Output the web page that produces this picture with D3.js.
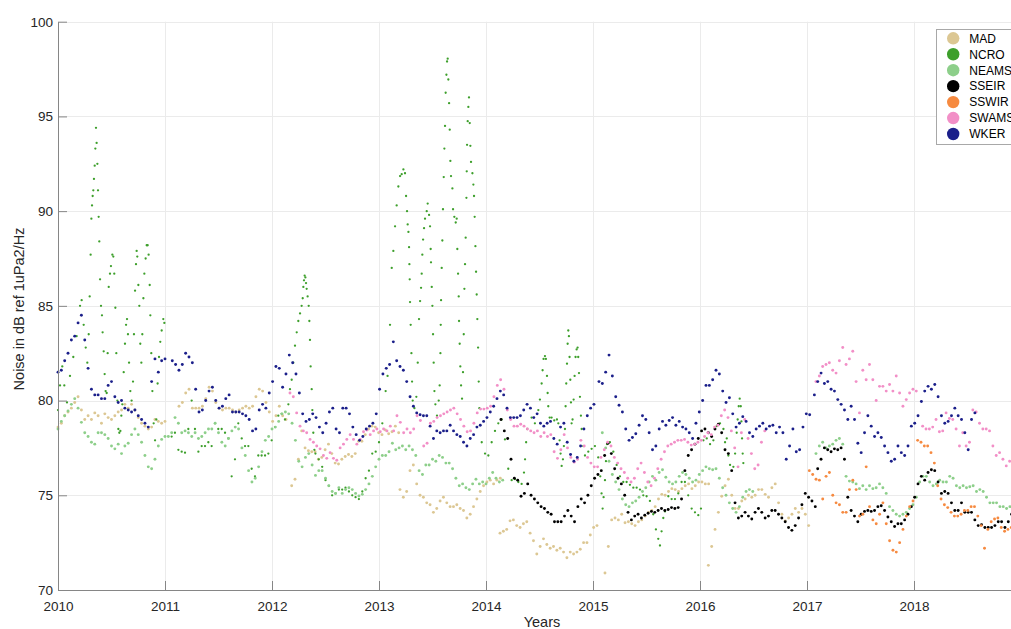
<!DOCTYPE html>
<html>
<head>
<meta charset="utf-8">
<script src="https://cdn.jsdelivr.net/npm/d3@7"></script>
<style>
  html, body { margin: 0; padding: 0; background: #fff; }
  svg { display: block; font-family: "Liberation Sans", Arial, Helvetica, sans-serif; }
</style>
</head>
<body>
<svg id="chart" width="1011" height="629"></svg>
<script>
// ---- station names, colours and axis ticks ----
const stations = ["MAD", "NCRO", "NEAMS", "SSEIR", "SSWIR", "SWAMS", "WKER"];
const stationColors = ["#dcc793", "#3d9f2b", "#8dcf8a", "#000000", "#f68a40", "#f28fc7", "#1b1f8a"];
const yearTicks = [2010, 2011, 2012, 2013, 2014, 2015, 2016, 2017, 2018];
const dbTicks = [70, 75, 80, 85, 90, 95, 100];

// Smoothed noise level, one value every STEP years from each segment's start year.
const STEP = 1 / 32;

const madSegments = [
  [2010.000, [78.6,78.8,79.2,79.4,79.6,79.9,80.2,79.5,79.0,79.2,79.0,79.35,79.2,78.8,79.3,79.1,79.0,79.2,79.4,79.5,79.8,79.6,79.8,79.5,79.1,78.8,78.65,78.5,78.6,79.0,78.9,78.8,78.9]],
  [2011.131, [79.7,79.9,80.4,80.6,79.6,79.6,79.6,79.7,80.1,80.7,80.5,79.9,79.6,79.5,79.6,79.6,79.5,79.4,79.5,79.6,79.7,79.6,79.7,80.2,80.6,80.5,79.9,79.4,78.9,79.2,79.7,79.2,79.0]],
  [2012.184, [75.5,75.85,76.9,78.4,77.5,77.35,77.3,77.3,76.9,77.0,77.4,77.7,77.2,76.7,76.65,76.9,77.05,77.15,77.05,77.2,77.85,77.85,78.2,78.5,78.65,78.6,78.3,78.2,78.45,78.25,78.35,78.65,78.3]],
  [2013.196, [75.3,74.9,75.2,76.3,76.6,75.6,75.0,74.9,74.6,74.5,74.1,74.3,74.7,74.9,74.6,74.4,74.4,74.5,74.3,74.2,73.8,74.0,74.4,74.8,75.2,75.5,75.7,75.8,75.6,75.8,75.9]],
  [2014.131, [73.0,73.1,73.2,73.65,73.7,73.4,73.3,73.5,73.6,73.0,72.6,71.9,72.3,72.7,72.4,72.2,72.3,72.1,72.2,72.0,71.7,72.0,71.9,72.0,72.15,72.5,72.5,72.9,73.3,73.4]],
  [2015.112, [70.9,72.3,73.7,73.8,73.7,74.0,73.55,73.6,73.5,73.4,73.6,73.7,73.9,74.1,74.2,74.4,74.8,75.05,75.0,75.2,75.35,75.3,75.2,75.35,75.5,75.6,75.35,75.5,75.7,75.7,75.6,75.6]],
  [2016.078, [71.3,72.3,73.2,74.1,74.95,75.5,75.85,75.0,74.3,74.3,74.7,74.8,75.0,74.9,75.0,75.3,75.3,75.05,74.9,75.4,75.6,74.6,74.0,73.65,73.8,74.0,74.3,74.1,74.3,74.0,73.4]]
];

// NCRO is spiky, so it is kept as individual [year, dB] readings.
const ncroPoints = [
  [2010.000,79.5],[2010.019,80.8],[2010.040,81.8],[2010.059,80.8],[2010.084,79.9],[2010.112,81.3],[2010.143,82.3],[2010.174,83.4],[2010.206,85.0],[2010.221,85.3],
  [2010.240,84.0],[2010.259,82.8],[2010.274,82.0],[2010.287,83.5],[2010.296,85.5],[2010.305,87.7],[2010.312,89.6],[2010.318,90.3],[2010.324,90.8],[2010.330,91.1],
  [2010.336,91.7],[2010.343,92.4],[2010.349,93.3],[2010.355,94.4],[2010.361,93.6],[2010.368,92.5],[2010.374,91.1],[2010.380,89.7],[2010.386,88.4],[2010.393,86.4],
  [2010.402,85.0],[2010.411,84.5],[2010.417,83.6],[2010.427,82.6],[2010.436,81.4],[2010.445,80.5],[2010.455,80.4],[2010.464,82.5],[2010.474,86.0],[2010.486,86.7],
  [2010.495,87.1],[2010.508,87.7],[2010.517,87.6],[2010.526,86.7],[2010.536,84.9],[2010.545,82.5],[2010.555,80.0],[2010.564,78.5],[2010.573,78.3],[2010.583,78.4],
  [2010.592,79.2],[2010.601,79.8],[2010.614,81.5],[2010.626,83.0],[2010.636,84.0],[2010.645,84.3],[2010.654,83.5],[2010.664,82.0],[2010.676,80.5],[2010.688,80.0],
  [2010.701,81.0],[2010.710,83.5],[2010.720,85.8],[2010.729,87.2],[2010.735,87.9],[2010.741,87.6],[2010.751,86.1],[2010.760,85.0],[2010.769,83.0],[2010.779,82.0],
  [2010.788,83.5],[2010.798,85.4],[2010.807,86.7],[2010.819,87.5],[2010.829,88.2],[2010.838,88.2],[2010.847,87.7],[2010.857,86.1],[2010.863,84.5],[2010.872,82.5],
  [2010.882,80.5],[2010.894,78.8],[2010.907,77.9],[2010.919,79.0],[2010.931,80.9],[2010.944,82.3],[2010.956,83.1],[2010.969,83.7],[2010.984,84.3],[2010.994,84.1],
  [2011.062,78.1],[2011.093,78.3],[2011.125,77.4],[2011.156,77.3],[2011.187,77.25],[2011.218,78.5],[2011.249,80.0],[2011.280,78.5],[2011.312,77.3],[2011.343,77.6],
  [2011.374,77.6],[2011.405,77.8],[2011.436,77.6],[2011.467,78.8],[2011.498,78.5],[2011.530,78.5],[2011.561,78.3],[2011.592,78.0],[2011.623,76.0],[2011.654,76.9],
  [2011.685,78.8],[2011.717,78.0],[2011.748,77.6],[2011.779,77.6],[2011.810,76.4],[2011.841,76.0],[2011.872,77.1],[2011.903,77.1],[2011.935,77.1],[2011.966,77.2],
  [2011.997,77.9],[2012.028,78.6],[2012.059,79.2],[2012.090,79.3],[2012.121,79.0],[2012.153,79.8],
  [2012.168,80.6],[2012.184,81.1],[2012.199,82.0],[2012.215,82.9],[2012.231,83.6],[2012.246,84.2],[2012.262,84.6],[2012.277,85.0],[2012.287,85.4],[2012.293,86.0],
  [2012.299,86.35],[2012.305,86.6],[2012.312,86.5],[2012.318,86.2],[2012.324,85.9],[2012.333,85.5],[2012.343,85.0],[2012.349,84.2],[2012.355,83.2],[2012.361,81.8],
  [2012.371,80.6],[2012.377,79.5],[2012.386,78.3],[2012.396,77.4],
  [2012.406,77.2],[2012.437,76.9],[2012.469,76.5],[2012.500,75.8],[2012.531,75.5],[2012.562,75.0],[2012.594,75.1],[2012.625,75.3],[2012.656,75.3],[2012.687,75.4],
  [2012.719,75.2],[2012.750,75.0],[2012.781,74.9],[2012.812,74.8],[2012.844,75.2],[2012.875,75.9],[2012.906,76.3],[2012.937,77.2],[2012.969,77.3],[2013.000,77.8],
  [2013.031,78.8],[2013.062,80.5],[2013.080,81.3],
  [2013.103,84.0],[2013.119,87.0],[2013.134,87.9],[2013.150,89.2],[2013.165,90.3],[2013.181,91.3],[2013.197,91.85],[2013.212,91.95],[2013.228,92.2],[2013.243,92.0],
  [2013.253,90.8],[2013.262,90.0],[2013.268,89.3],[2013.275,88.9],[2013.281,88.1],[2013.284,87.2],[2013.287,86.4],[2013.290,85.2],[2013.296,84.0],[2013.303,82.5],
  [2013.309,81.0],[2013.315,80.0],[2013.331,79.6],[2013.349,80.2],[2013.362,82.0],[2013.374,84.3],[2013.384,85.25],[2013.393,85.95],[2013.399,86.7],[2013.405,87.7],
  [2013.412,88.5],[2013.421,89.1],[2013.430,89.6],[2013.446,90.0],[2013.455,90.4],[2013.468,89.8],[2013.477,89.2],[2013.483,88.0],[2013.486,87.3],[2013.493,86.0],
  [2013.499,85.0],[2013.505,83.5],[2013.511,82.0],[2013.518,80.5],[2013.527,79.8],[2013.542,79.2],[2013.558,80.0],[2013.567,80.8],[2013.574,82.5],[2013.577,84.0],
  [2013.580,85.3],[2013.586,87.0],[2013.592,88.45],[2013.598,90.1],[2013.605,91.8],[2013.611,93.3],[2013.617,94.5],[2013.623,96.25],[2013.630,97.2],[2013.636,97.9],
  [2013.642,98.05],[2013.648,96.95],[2013.655,95.7],[2013.661,94.3],[2013.667,92.65],[2013.673,91.85],[2013.686,91.2],[2013.692,90.1],[2013.704,89.7],[2013.717,89.4],
  [2013.726,89.6],[2013.732,88.0],[2013.739,86.7],[2013.745,85.5],[2013.748,84.2],[2013.754,83.0],[2013.760,81.8],[2013.767,80.8],[2013.776,80.1],[2013.785,81.5],
  [2013.792,83.5],[2013.798,85.9],[2013.804,87.2],[2013.810,88.6],[2013.817,90.7],[2013.820,92.1],[2013.823,93.5],[2013.829,94.75],[2013.835,95.5],[2013.841,96.0],
  [2013.848,94.65],[2013.854,93.45],[2013.860,92.6],[2013.873,92.0],[2013.882,91.4],[2013.888,90.8],[2013.894,89.7],[2013.901,88.15],[2013.907,86.8],[2013.913,85.6],
  [2013.919,84.3],[2013.926,82.8],[2013.932,81.0],[2013.938,79.6],
  [2013.960,77.8],[2013.991,77.2],[2014.022,77.1],[2014.053,77.8],[2014.084,78.4],[2014.115,78.8],[2014.146,79.0],[2014.177,77.95],[2014.208,76.4],[2014.240,75.8],
  [2014.271,75.85],[2014.302,75.7],[2014.333,75.6],[2014.355,76.2],[2014.365,76.9],[2014.375,77.8],[2014.385,78.5],[2014.426,79.1],[2014.457,78.8],[2014.489,79.5],
  [2014.504,80.05],[2014.520,80.9],[2014.529,81.6],[2014.538,82.2],[2014.551,82.35],[2014.560,82.2],[2014.570,81.3],[2014.576,80.4],[2014.582,79.7],[2014.595,79.1],
  [2014.613,79.1],[2014.638,78.95],[2014.663,79.0],[2014.676,78.8],[2014.688,77.9],[2014.697,77.2],[2014.707,76.55],[2014.719,76.9],[2014.728,77.6],[2014.738,78.5],
  [2014.744,79.7],[2014.750,80.9],[2014.757,81.95],[2014.763,83.0],[2014.769,83.7],[2014.775,83.4],[2014.781,82.3],[2014.788,81.1],[2014.794,79.9],[2014.800,78.8],
  [2014.809,79.0],[2014.819,80.05],[2014.828,81.3],[2014.837,82.3],[2014.847,82.7],[2014.856,82.8],[2014.862,82.3],[2014.869,81.45],[2014.878,80.2],[2014.887,79.2],
  [2014.894,78.5],[2014.909,77.6],[2014.925,77.1],[2014.956,77.3],[2014.987,77.45],[2015.018,77.6],[2015.049,77.0],[2015.068,76.0],[2015.080,75.1],[2015.090,74.3],
  [2015.099,74.9],[2015.112,75.8],[2015.121,76.8],[2015.131,77.7],[2015.158,77.8],[2015.190,77.3],[2015.221,76.6],[2015.252,76.0],[2015.283,75.7],[2015.314,75.7],
  [2015.345,75.55],[2015.377,75.4],[2015.408,75.4],[2015.439,75.3],[2015.470,75.0],[2015.501,74.95],[2015.532,74.7],[2015.563,74.0],[2015.588,73.2],[2015.610,72.7],
  [2015.626,72.35],[2015.641,73.1],[2015.657,73.8],[2015.673,74.15],[2015.704,74.95],[2015.735,74.8],[2015.766,74.8],[2015.797,75.1],[2015.828,75.7],[2015.859,75.7],
  [2015.890,75.0],[2015.922,74.3],[2015.953,74.1],[2015.984,73.95],[2016.009,74.3],
  [2016.032,77.9],[2016.063,78.0],[2016.094,77.7],[2016.125,77.9],[2016.156,78.65],[2016.187,78.8],[2016.219,78.5],[2016.234,77.8],[2016.250,78.0],[2016.265,77.1],
  [2016.281,76.6],[2016.312,76.5],[2016.328,77.2],[2016.343,78.3],[2016.352,79.0],[2016.362,79.7],[2016.371,80.1],[2016.381,79.7],[2016.387,78.9],[2016.393,78.0],
  [2016.399,77.2],[2016.405,76.7]
];

const neamsSegments = [
  [2010.000, [78.5,78.9,79.2,79.45,79.8,80.1,79.6,78.85,78.3,78.1,77.8,77.7,78.3,78.3,78.2,78.0,77.6,77.45,77.7,77.2,
              77.6,77.75,78.2,78.5,78.2,77.8,77.1,76.5,76.4,76.9,77.6,77.95,78.1,78.1,78.3,79.1,78.8,78.3,78.4,78.3,
              78.1,78.3,78.0,78.1,78.3,78.5,78.5,78.8,78.3,77.8,77.6,78.0,78.4,78.6,78.5,77.5,77.1,76.3,75.7,75.9,
              76.5,77.3,77.9,78.1,78.5,78.6,78.9,79.3,79.4,79.3,78.8,
              77.9,76.8,76.5,77.0,77.2,76.6,76.05,76.3,76.3,75.9,75.5,75.2,75.1,75.4,75.1,75.3,75.4,75.3,75.1,74.96,
              75.05,75.3,75.6,76.0,76.5,76.9,77.1,77.1,77.3,77.75,77.4,77.5,77.6,77.4,77.6,77.4,77.1,76.3,76.1,76.6,
              76.6,76.9,76.8,77.1,77.0,76.7,76.7,76.4,75.9,75.5,75.6,75.4,75.3,75.6,75.85,75.6,75.7,75.6,75.9,76.2,
              75.9,75.7,75.8]],
  [2015.087, [78.3,77.5,76.8,76.1,75.7,75.3,74.8,74.5,74.4,74.6,74.7,74.9,75.2,75.4,75.7,76.0,75.8,76.2,76.35,75.95,
              75.7,75.6,75.7,76.0,76.2,76.1,75.9,75.7,75.8,76.1,76.3,76.5,76.4,76.35,76.4,75.9,75.4,75.0,74.6,74.3,
              74.1,74.4,74.9,75.2,75.3,75.2]],
  [2017.084, [77.2,77.6,77.8,77.5,77.6,77.7,77.9,78.0,77.7,76.0,75.75,75.7,75.6,75.35,75.5,75.3,75.5,75.35,75.4,75.6,
              75.4,75.1,74.4,74.2,74.0,73.9,74.0,74.1,74.3,74.5,74.9,75.7,76.0,76.0,75.7,75.5,75.6,75.8,75.7,75.7,
              76.0,75.9,75.5,75.4,75.5,75.4,75.45,75.5,75.2,75.3,75.2,74.9,74.6,74.6,74.6,74.4,74.4,74.3,74.4]]
];

const sseirSegments = [
  [2014.140, [79.0,78.4,78.0,76.9,75.9,75.8,74.95,75.1,75.6,75.0,74.8,74.6,74.4,74.3,74.1,74.0,73.6,73.6,73.6,73.9,
              74.2,73.9,73.6,74.4,74.8,74.6,75.0,75.5,75.9,76.1,76.3,
              77.1,77.75,77.2,76.4,75.9,75.6,75.0,74.1,73.7,73.9,74.0,73.8,73.95,74.05,74.15,74.1,74.2,74.3,74.2,74.25,
              74.35,74.3,74.35,74.8,76.3,77.1,77.4,77.7,78.0,78.4,78.5,78.3,78.1,78.5,78.75,78.3,77.4,77.2,76.3,74.6,
              73.8,73.9,74.1,73.9,73.75,74.1,74.3,74.1,73.8,73.9,
              74.2,74.2,74.0,73.8,73.6,73.3,73.15,73.4,73.8,74.5,75.1,74.9,74.7,74.4]],
  [2017.100, [76.4,76.9,77.5,77.4,77.3,77.45,77.4,77.5,76.9,74.9,74.2,73.9,73.6,74.0,74.15,74.2,74.15,74.2,74.4,74.45,
              74.2,73.85,73.6,73.35,73.5,73.5,73.7,74.0,74.4,74.9,75.6,76.0,75.8,76.2,76.35,76.3,75.7,75.1,75.2,75.1,
              74.6,74.2,74.2,74.6,74.1,74.1,74.1,73.7,73.4,73.45,73.3,73.3,73.3,73.4,73.6,73.6,73.3,73.6,74.0]]
];

const sswirSegments = [
  [2017.022, [76.3,76.1,75.85,75.8,74.8,76.0,76.2,75.0,74.6,74.5,74.1,74.1,75.3,75.8,75.3,73.9,74.0,76.5,74.4,73.7,
              73.5,74.0,74.6,73.5,72.6,72.1,72.0,72.5,73.2,73.9,74.4,74.7]],
  [2018.034, [77.9,77.8,77.6,77.6,77.25,76.7,75.5,74.8,74.5,74.35,74.1,73.9,73.9,74.0,74.2,74.2,74.4,74.4,73.9,73.4,
              72.2,73.2,73.6,73.75,73.8,73.3,73.1,73.2,73.3]]
];

const swamsSegments = [
  [2012.168, [80.4,80.2,79.35,78.65,78.4,78.3,77.95,77.8,77.6,77.45,77.1,76.95,77.25,76.95,76.85,77.5,77.7,77.95,78.2,77.95,
              77.7,77.95,78.35,78.45,78.2,78.4,78.5,78.35,78.5,78.4,78.65,78.4,79.2,78.85,78.3,78.5,78.3,78.5,79.2,78.95,
              77.6,77.75,78.8,78.9,79.1,79.2,79.3,79.4,79.5,79.6,79.3,79.0,78.65,78.35,78.4,78.8,79.35,79.55,79.55,79.6,
              79.7,80.2,80.8,81.1,80.6,79.5,79.0,78.65,78.65,78.75,78.65,78.5,78.4,78.3,
              78.4,78.1,78.3,78.1,78.2,77.3,76.95,77.4,78.2,77.5,77.0,76.75,76.9,77.9,77.6,77.0,76.7,76.5,76.5,77.0,
              77.4,77.8,77.6,77.0,76.7,76.4,76.2,75.9,75.7,75.9,76.4,76.7,76.2,75.7,75.5,75.9,76.4,76.9,77.3,77.6,
              77.7,77.8,77.9,77.9,77.95,77.8,77.65,77.7,77.8,77.9,78.1,78.3,78.2,78.6,78.7,79.2,79.5,79.1,78.4,77.5,
              76.5,78.3,79.0,78.0,77.2,76.4,76.6,77.8,78.4]],
  [2017.084, [81.0,81.3,81.8,81.9,82.0,81.6,81.45,82.1,82.8,81.9,82.2,82.6,81.0,79.35,81.6,81.1,81.9,81.1,80.0,80.75,
              80.75,80.5,80.85,80.5,81.3,80.4,79.7,80.05,80.4,80.6,80.5]],
  [2018.081, [78.65,78.5,78.5,78.6,79.0,78.35,78.4,79.35,79.05,79.0,78.5,77.6,78.3,77.6,77.8,79.5,79.4,78.8,78.5,78.5,
              78.4,77.6,77.1,77.25,76.9,76.55,76.8,76.7]]
];

const wkerSegments = [
  [2010.000, [81.5,81.6,82.1,82.5,83.2,83.4,84.1,84.5,83.2,81.7,80.6,80.3,80.3,80.1,80.1,80.8,81.0,80.2,79.9,80.0,
              79.6,79.5,79.4,79.5,79.2,79.0,78.8,78.6,81.0,82.2,81.5,82.1,82.2]],
  [2011.068, [82.1,81.9,81.6,81.9,82.5,82.3,82.0,80.6,79.4,79.5,80.0,80.5,80.7,80.0,79.6,79.7,80.1,80.3,79.4,79.4,
              79.4,79.3,79.2,79.0,78.4,78.5,79.5,79.8,79.6,80.4,81.0,81.8,81.7,80.7,81.4,82.4,82.0,81.4,80.4,
              79.3,78.9,79.0,79.3,79.1,78.6,78.3,78.8,79.4,79.6,78.5,78.3,79.6,79.6,79.3,78.6,78.2,77.9,78.1,78.5,
              78.65,78.8,79.3,80.6,81.4,81.7,81.9]],
  [2013.134, [83.1,82.1,81.8,81.6,81.0,80.2,79.7,79.35,79.25,79.2,79.2,78.65,78.0,78.4,78.3,78.4,78.4,78.7,78.4,78.2,
              78.1,77.8,77.6,78.0,78.2,78.6,78.7,78.9,79.1,79.4,79.7,80.1,80.5,80.3,79.6,79.1,79.1,79.1,79.2,79.5,
              79.8,79.6,79.1,79.3,78.8,78.65,78.8,78.9,78.0,77.7,78.6,78.8,77.8,77.15,76.8,77.0,77.6,78.5,79.2,79.6,
              79.8]],
  [2015.056, [81.0,80.9,81.5,82.4,81.3,80.2,79.75,79.4,78.5,77.9,78.05,78.25,78.7,79.2,79.0,78.3,77.4,77.6,78.5,78.9,
              78.7,78.95,79.1,78.7,78.9,78.6,78.5,78.3,78.0,78.8,79.4,80.0,80.8,80.8,81.1,81.6,81.4,80.5,79.9,80.15,
              79.3,78.6,78.8,79.15,78.9,78.3,78.1,78.5,78.65,78.8,78.5,78.65,
              78.7,78.3,78.6,78.3,76.9,77.6,78.5,77.3,77.4,78.6,79.3,79.25]],
  [2017.069, [80.3,81.0,81.45,80.9,81.0,80.6,80.5,80.05,79.8,79.5,79.0,79.7,79.0,77.75,77.25,78.3,79.2,78.65,78.1,78.3,
              78.05,77.6,77.25,76.8,76.9,77.6,77.25,77.1,77.6,78.65,78.8,79.2,79.95,80.5,80.75,80.6,80.85,80.2,79.2,78.8,
              78.9,79.2,79.6,79.2,79.0,78.3,77.4,79.0,79.35]]
];

// ---- turn segments into [year, dB] readings ----
function expand(segments) {
  const out = [];
  segments.forEach(([t0, values]) => values.forEach((v, i) => out.push([t0 + i * STEP, v])));
  return out;
}

const seriesPoints = [
  expand(madSegments),
  ncroPoints,
  expand(neamsSegments),
  expand(sseirSegments),
  expand(sswirSegments),
  expand(swamsSegments),
  expand(wkerSegments)
];

// ---- layout ----
const svg = d3.select("#chart");
const chartW = 1011;
const plotLeft = 58, plotBottom = 590, plotTop = 21.7;
const x = d3.scaleLinear().domain([2010, 2019]).range([plotLeft, 1021]);
const y = d3.scaleLinear().domain([70, 100]).range([plotBottom, plotTop]);
const tickColor = "#262626";
const axisColor = "#868686";
const gridColor = "#ebebeb";

// grid
const grid = svg.append("g");
grid.selectAll("line.v").data(yearTicks.slice(1)).join("line")
  .attr("x1", d => Math.round(x(d)) + 0.5).attr("x2", d => Math.round(x(d)) + 0.5)
  .attr("y1", y(100)).attr("y2", plotBottom)
  .attr("stroke", gridColor).attr("stroke-width", 1);
grid.selectAll("line.h").data(dbTicks.slice(1)).join("line")
  .attr("x1", plotLeft).attr("x2", chartW)
  .attr("y1", d => Math.round(y(d)) + 0.5).attr("y2", d => Math.round(y(d)) + 0.5)
  .attr("stroke", gridColor).attr("stroke-width", 1);

// dots
const plot = svg.append("g");
seriesPoints.forEach((pts, k) => {
  plot.append("g")
    .selectAll("circle").data(pts).join("circle")
    .attr("cx", d => x(d[0]))
    .attr("cy", d => y(d[1]))
    .attr("r", k === 1 ? 1.15 : 1.45)
    .attr("fill", stationColors[k]);
});

// axes
function styleAxis(g) {
  g.attr("font-family", null).attr("font-size", null);
  g.select(".domain").attr("stroke", axisColor);
  g.selectAll(".tick line").attr("stroke", axisColor);
  g.selectAll(".tick text").attr("fill", tickColor).style("font-size", "13.5px");
}
svg.append("g")
  .attr("transform", `translate(0,${plotBottom})`)
  .call(d3.axisBottom(x).tickValues(yearTicks).tickFormat(d3.format("d"))
        .tickSizeInner(-9).tickSizeOuter(0).tickPadding(11))
  .call(styleAxis);
svg.append("g")
  .attr("transform", `translate(${plotLeft},0)`)
  .call(d3.axisLeft(y).tickValues(dbTicks).tickSizeInner(-9).tickSizeOuter(0).tickPadding(5))
  .call(styleAxis);

// axis titles
svg.append("text")
  .attr("x", 542).attr("y", 627)
  .attr("text-anchor", "middle")
  .attr("fill", tickColor).style("font-size", "14.5px")
  .text("Years");
svg.append("text")
  .attr("transform", "translate(24,309) rotate(-90)")
  .attr("text-anchor", "middle")
  .attr("fill", tickColor).style("font-size", "14.5px")
  .text("Noise in dB ref 1uPa2/Hz");

// legend (its right part runs past the edge of the figure)
const legend = svg.append("g");
legend.append("rect")
  .attr("x", 936.5).attr("y", 29.5).attr("width", 100).attr("height", 115)
  .attr("fill", "#fff").attr("stroke", "#a8a8a8").attr("stroke-width", 1);
const rows = legend.selectAll("g.row").data(stations).join("g")
  .attr("transform", (d, i) => `translate(0,${38.3 + i * 15.95})`);
rows.append("circle").attr("cx", 953.2).attr("cy", 0).attr("r", 6.2)
  .attr("fill", (d, i) => stationColors[i]);
rows.append("text").attr("x", 969.3).attr("y", 4.3)
  .attr("fill", "#000").style("font-size", "12px")
  .text(d => d);
</script>
</body>
</html>
